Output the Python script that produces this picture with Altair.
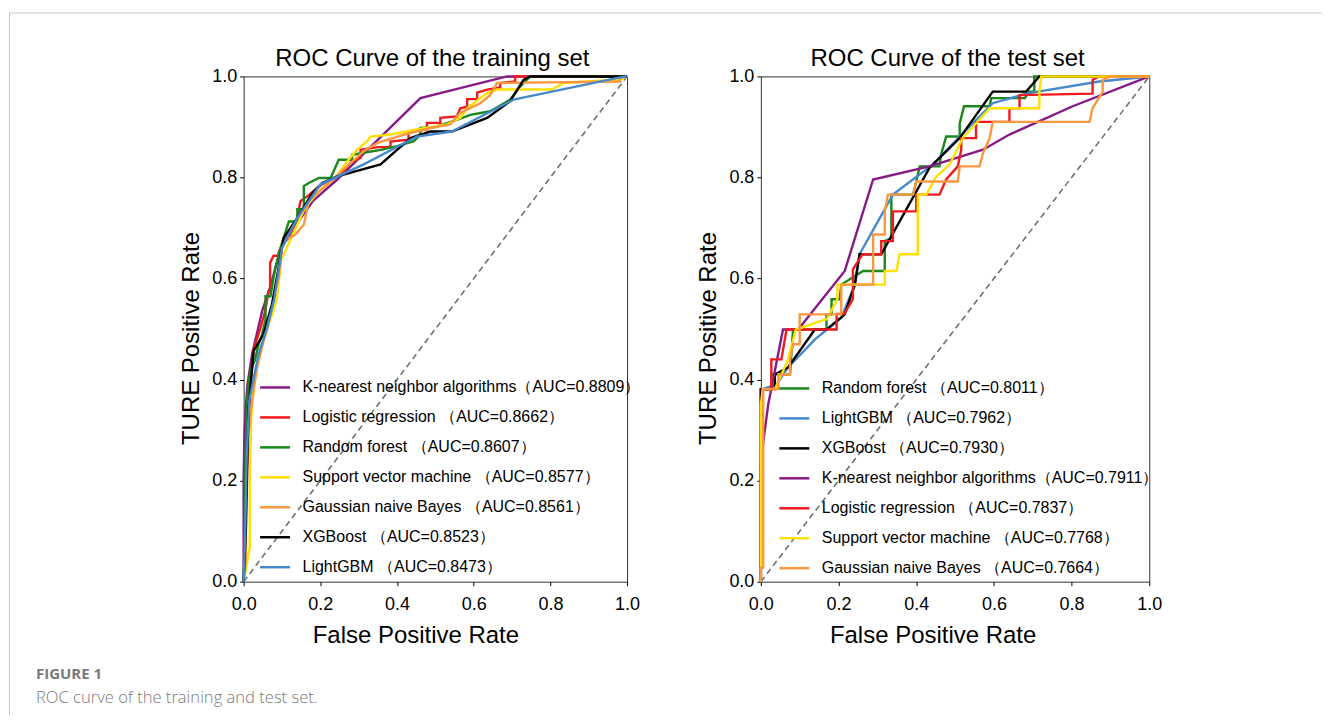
import altair as alt
import pandas as pd

# ---------------- training set ROC points (fpr, tpr) ----------------
train_knn = [(0, 0), (0.0, 0.2), (0.002, 0.29), (0.005, 0.34), (0.01, 0.39), (0.022, 0.45),
             (0.048, 0.535), (0.07, 0.585), (0.10, 0.667), (0.18, 0.753), (0.244, 0.796),
             (0.461, 0.957), (0.687, 1.0), (1.0, 1.0)]
train_lr = [(0, 0), (0.003, 0.02), (0.003, 0.1), (0.008, 0.25), (0.013, 0.32), (0.017, 0.38),
            (0.026, 0.46), (0.043, 0.5), (0.056, 0.535), (0.065, 0.575), (0.069, 0.575),
            (0.069, 0.631), (0.078, 0.645), (0.091, 0.645), (0.091, 0.651), (0.1, 0.667),
            (0.118, 0.68), (0.13, 0.7), (0.14, 0.72), (0.148, 0.753), (0.17, 0.765),
            (0.2, 0.785), (0.23, 0.795), (0.261, 0.812), (0.28, 0.83), (0.305, 0.839),
            (0.305, 0.855), (0.35, 0.86), (0.383, 0.86), (0.383, 0.871), (0.43, 0.875),
            (0.43, 0.89), (0.478, 0.895), (0.478, 0.908), (0.513, 0.908), (0.513, 0.918),
            (0.556, 0.921), (0.565, 0.937), (0.583, 0.94), (0.583, 0.955), (0.609, 0.955),
            (0.609, 0.968), (0.635, 0.974), (0.669, 0.978), (0.669, 0.987), (0.708, 0.99),
            (0.708, 1.0), (1.0, 1.0)]
train_rf = [(0, 0), (0.003, 0.1), (0.005, 0.25), (0.008, 0.33), (0.011, 0.377), (0.017, 0.417),
            (0.03, 0.44), (0.039, 0.47), (0.048, 0.489), (0.057, 0.519), (0.057, 0.565),
            (0.07, 0.565), (0.082, 0.62), (0.1, 0.67), (0.118, 0.713), (0.14, 0.713),
            (0.14, 0.737), (0.157, 0.737), (0.157, 0.783), (0.17, 0.789), (0.196, 0.799),
            (0.227, 0.799), (0.248, 0.835), (0.283, 0.835), (0.283, 0.845), (0.361, 0.855),
            (0.4, 0.862), (0.444, 0.872), (0.461, 0.885), (0.461, 0.898), (0.5, 0.9),
            (0.556, 0.914), (0.591, 0.924), (0.643, 0.931), (0.695, 0.954), (0.721, 0.98),
            (0.747, 1.0), (1.0, 1.0)]
train_svm = [(0, 0), (0.005, 0.02), (0.016, 0.068), (0.016, 0.2), (0.02, 0.33), (0.03, 0.41),
             (0.045, 0.46), (0.06, 0.5), (0.075, 0.53), (0.087, 0.562), (0.099, 0.641),
             (0.105, 0.648), (0.13, 0.69), (0.16, 0.74), (0.2, 0.776), (0.24, 0.8),
             (0.27, 0.832), (0.296, 0.855), (0.322, 0.872), (0.331, 0.881), (0.383, 0.885),
             (0.45, 0.895), (0.53, 0.905), (0.565, 0.918), (0.583, 0.937), (0.617, 0.957),
             (0.635, 0.967), (0.661, 0.974), (0.804, 0.974), (0.834, 0.987), (0.982, 0.994),
             (1.0, 1.0)]
train_gnb = [(0, 0), (0.006, 0.05), (0.006, 0.127), (0.013, 0.292), (0.022, 0.358),
             (0.035, 0.424), (0.052, 0.476), (0.065, 0.509), (0.078, 0.562), (0.091, 0.601),
             (0.1, 0.66), (0.105, 0.674), (0.135, 0.687), (0.157, 0.707), (0.17, 0.753),
             (0.192, 0.769), (0.227, 0.792), (0.261, 0.816), (0.313, 0.852), (0.348, 0.868),
             (0.418, 0.885), (0.487, 0.898), (0.539, 0.905), (0.565, 0.928), (0.617, 0.947),
             (0.643, 0.963), (0.661, 0.987), (0.982, 0.99), (0.982, 1.0), (1.0, 1.0)]
train_xgb = [(0, 0), (0.003, 0.05), (0.006, 0.107), (0.009, 0.226), (0.013, 0.344),
             (0.026, 0.457), (0.052, 0.49), (0.074, 0.549), (0.091, 0.621), (0.104, 0.68),
             (0.14, 0.72), (0.179, 0.769), (0.205, 0.789), (0.244, 0.802), (0.357, 0.826),
             (0.435, 0.878), (0.487, 0.891), (0.543, 0.891), (0.635, 0.918), (0.695, 0.951),
             (0.73, 0.993), (0.747, 1.0), (1.0, 1.0)]
train_lgbm = [(0, 0), (0.004, 0.1), (0.008, 0.25), (0.015, 0.36), (0.039, 0.45), (0.06, 0.5),
              (0.08, 0.56), (0.1, 0.66), (0.14, 0.72), (0.2, 0.786), (0.313, 0.826),
              (0.452, 0.881), (0.543, 0.891), (0.704, 0.954), (0.982, 0.998), (1.0, 1.0)]

train_labels = [
    "K-nearest neighbor algorithms（AUC=0.8809）",
    "Logistic regression （AUC=0.8662）",
    "Random forest （AUC=0.8607）",
    "Support vector machine （AUC=0.8577）",
    "Gaussian naive Bayes （AUC=0.8561）",
    "XGBoost （AUC=0.8523）",
    "LightGBM （AUC=0.8473）",
]
train_series = [train_knn, train_lr, train_rf, train_svm, train_gnb, train_xgb, train_lgbm]

# ---------------- test set ROC points (fpr, tpr) ----------------
test_rf = [(0, 0), (0, 0.381), (0.027, 0.381), (0.027, 0.41), (0.075, 0.41), (0.083, 0.499),
           (0.169, 0.499), (0.169, 0.529), (0.182, 0.529), (0.182, 0.559), (0.203, 0.559),
           (0.207, 0.588), (0.263, 0.615), (0.319, 0.615), (0.319, 0.674), (0.336, 0.68),
           (0.336, 0.766), (0.392, 0.766), (0.409, 0.822), (0.46, 0.822), (0.464, 0.845),
           (0.477, 0.881), (0.512, 0.881), (0.512, 0.907), (0.523, 0.941), (0.589, 0.941),
           (0.593, 0.957), (0.68, 0.957), (0.69, 0.97), (0.704, 0.97), (0.704, 1.0), (1.0, 1.0)]
test_lgbm = [(0, 0), (0, 0.38), (0.04, 0.39), (0.07, 0.424), (0.14, 0.48), (0.207, 0.522),
             (0.242, 0.588), (0.254, 0.648), (0.34, 0.766), (0.443, 0.826), (0.512, 0.881),
             (0.597, 0.947), (0.683, 0.966), (0.871, 0.99), (1.0, 1.0)]
test_xgb = [(0, 0), (0, 0.381), (0.036, 0.381), (0.036, 0.41), (0.07, 0.424), (0.139, 0.499),
            (0.169, 0.499), (0.216, 0.529), (0.242, 0.588), (0.254, 0.648), (0.31, 0.648),
            (0.434, 0.819), (0.512, 0.878), (0.597, 0.97), (0.683, 0.97), (0.717, 1.0), (1.0, 1.0)]
test_knn = [(0, 0), (0, 0.23), (0.002, 0.252), (0.019, 0.351), (0.057, 0.499), (0.096, 0.499),
            (0.216, 0.615), (0.289, 0.796), (0.434, 0.822), (0.572, 0.855), (0.64, 0.885),
            (0.803, 0.941), (1.0, 1.0)]
test_lr = [(0, 0), (0, 0.173), (0.003, 0.173), (0.003, 0.38), (0.027, 0.38), (0.027, 0.44),
           (0.053, 0.44), (0.066, 0.499), (0.195, 0.499), (0.195, 0.53), (0.215, 0.53),
           (0.237, 0.559), (0.237, 0.618), (0.25, 0.634), (0.262, 0.648), (0.31, 0.648),
           (0.31, 0.674), (0.34, 0.674), (0.34, 0.733), (0.4, 0.733), (0.4, 0.766),
           (0.46, 0.766), (0.477, 0.796), (0.507, 0.822), (0.516, 0.855), (0.516, 0.878),
           (0.554, 0.878), (0.554, 0.91), (0.64, 0.91), (0.64, 0.937), (0.666, 0.937),
           (0.666, 0.963), (0.854, 0.966), (0.854, 0.993), (0.87, 1.0), (1.0, 1.0)]
test_svm = [(0, 0), (0, 0.351), (0.005, 0.381), (0.036, 0.381), (0.053, 0.41), (0.07, 0.44),
            (0.09, 0.499), (0.17, 0.52), (0.197, 0.559), (0.197, 0.588), (0.319, 0.588),
            (0.319, 0.615), (0.349, 0.615), (0.357, 0.648), (0.404, 0.648), (0.404, 0.766),
            (0.426, 0.766), (0.45, 0.8), (0.486, 0.826), (0.52, 0.878), (0.589, 0.937),
            (0.717, 0.937), (0.717, 0.97), (0.722, 1.0), (1.0, 1.0)]
test_gnb = [(0, 0), (0, 0.028), (0.006, 0.028), (0.006, 0.381), (0.045, 0.381), (0.045, 0.41),
            (0.075, 0.41), (0.075, 0.44), (0.083, 0.47), (0.1, 0.47), (0.1, 0.529),
            (0.207, 0.529), (0.207, 0.588), (0.289, 0.588), (0.289, 0.687), (0.319, 0.687),
            (0.319, 0.733), (0.327, 0.766), (0.392, 0.766), (0.4, 0.792), (0.507, 0.792),
            (0.512, 0.822), (0.563, 0.822), (0.572, 0.848), (0.589, 0.878), (0.597, 0.91),
            (0.846, 0.91), (0.854, 0.937), (0.88, 0.97), (0.88, 0.993), (0.9, 1.0), (1.0, 1.0)]

test_labels = [
    "Random forest （AUC=0.8011）",
    "LightGBM （AUC=0.7962）",
    "XGBoost （AUC=0.7930）",
    "K-nearest neighbor algorithms（AUC=0.7911）",
    "Logistic regression （AUC=0.7837）",
    "Support vector machine （AUC=0.7768）",
    "Gaussian naive Bayes （AUC=0.7664）",
]
test_series = [test_rf, test_lgbm, test_xgb, test_knn, test_lr, test_svm, test_gnb]

# colours per model
C_KNN, C_LR, C_RF, C_SVM = "#861a86", "#f01a20", "#1a881a", "#ffe000"
C_GNB, C_XGB, C_LGBM = "#fa9840", "#000000", "#4589cc"
train_colors = [C_KNN, C_LR, C_RF, C_SVM, C_GNB, C_XGB, C_LGBM]
test_colors = [C_RF, C_LGBM, C_XGB, C_KNN, C_LR, C_SVM, C_GNB]

panel_titles = ["ROC Curve of the training set", "ROC Curve of the test set"]
tick_values = [0.0, 0.2, 0.4, 0.6, 0.8, 1.0]
diag = pd.DataFrame({"fpr": [0.0, 1.0], "tpr": [0.0, 1.0]})
one = pd.DataFrame({"a": [0]})
FONT = "Liberation Sans"


def to_frame(labels, series):
    rows = []
    for lab, pts in zip(labels, series):
        for i, (x, y) in enumerate(pts):
            rows.append({"model": lab, "fpr": x, "tpr": y, "i": i})
    return pd.DataFrame(rows)


def panel(labels, series, colors, title, width, title_x, lx, ly, extra=None):
    df = to_frame(labels, series)
    xs = alt.Scale(domain=[0, 1], nice=False, zero=False)
    ys = alt.Scale(domain=[0, 1], nice=False, zero=False)
    xaxis = alt.Axis(values=tick_values, format=".1f", title="False Positive Rate", grid=False,
                     domain=False, tickSize=4, tickColor="black", labelFontSize=18,
                     labelFont=FONT, labelColor="black", labelPadding=10, titleFontSize=24,
                     titleFont=FONT, titleFontWeight="normal", titleColor="black",
                     titlePadding=10, labelFlush=False, titleX=172)
    yaxis = alt.Axis(values=tick_values, format=".1f", title="TURE Positive Rate", grid=False,
                     domain=False, tickSize=4, tickColor="black", labelFontSize=18,
                     labelFont=FONT, labelColor="black", labelPadding=3, titleFontSize=24,
                     titleFont=FONT, titleFontWeight="normal", titleColor="black",
                     titlePadding=8, labelFlush=False, titleY=262)
    dline = alt.Chart(diag).mark_line(strokeDash=[6, 4], color="#707070", strokeWidth=1.6).encode(
        x=alt.X("fpr:Q", scale=xs, axis=xaxis),
        y=alt.Y("tpr:Q", scale=ys, axis=yaxis),
    )
    lines = alt.Chart(df).mark_line(strokeWidth=2.4).encode(
        x=alt.X("fpr:Q", scale=xs, axis=xaxis),
        y=alt.Y("tpr:Q", scale=ys, axis=yaxis),
        color=alt.Color("model:N", title=None,
                        scale=alt.Scale(domain=labels, range=colors),
                        legend=alt.Legend(orient="none", legendX=lx, legendY=ly,
                                          symbolType="stroke", symbolSize=900,
                                          symbolStrokeWidth=2.5, labelFontSize=16,
                                          labelFont=FONT, labelColor="black", rowPadding=5,
                                          labelOffset=11, padding=0, labelLimit=600)),
        order="i:Q",
    )
    ttl = alt.Chart(one).mark_text(align="center", baseline="alphabetic", fontSize=24,
                                   font=FONT, color="black").encode(
        x=alt.value(title_x), y=alt.value(-10), text=alt.value(title))
    layers = [dline, lines, ttl] + (extra or [])
    return alt.layer(*layers).properties(width=width, height=506)


frame_top = alt.Chart(one).mark_rule(color="#c8c8c8", strokeWidth=1).encode(
    x=alt.value(-235), x2=alt.value(1080), y=alt.value(-63.5))
frame_left = alt.Chart(one).mark_rule(color="#c8c8c8", strokeWidth=1).encode(
    x=alt.value(-234.5), y=alt.value(-64), y2=alt.value(640))
cap1 = alt.Chart(one).mark_text(align="left", baseline="middle", fontSize=15, fontWeight="bold",
                                color="#7a7a7a", font="Open Sans").encode(
    x=alt.value(-208), y=alt.value(598), text=alt.value("FIGURE 1"))
cap2 = alt.Chart(one).mark_text(align="left", baseline="middle", fontSize=16.6, fontWeight=300,
                                color="#7a7a7a", font="Open Sans").encode(
    x=alt.value(-208), y=alt.value(623), text=alt.value("ROC curve of the training and test set."))

left = panel(train_labels, train_series, train_colors, panel_titles[0], 384, 189, 15, 295,
             [frame_top, frame_left, cap1, cap2])
right = panel(test_labels, test_series, test_colors, panel_titles[1], 389, 187, 17, 296)

chart = alt.hconcat(left, right, spacing=134, bounds="flush").resolve_scale(
    color="independent").resolve_legend(color="independent").properties(
    padding={"top": 3, "left": 0, "right": 0, "bottom": 0}
).configure_view(stroke="#333333", strokeWidth=1)

chart.save("out.html", embed_options={"renderer": "svg", "actions": False})
